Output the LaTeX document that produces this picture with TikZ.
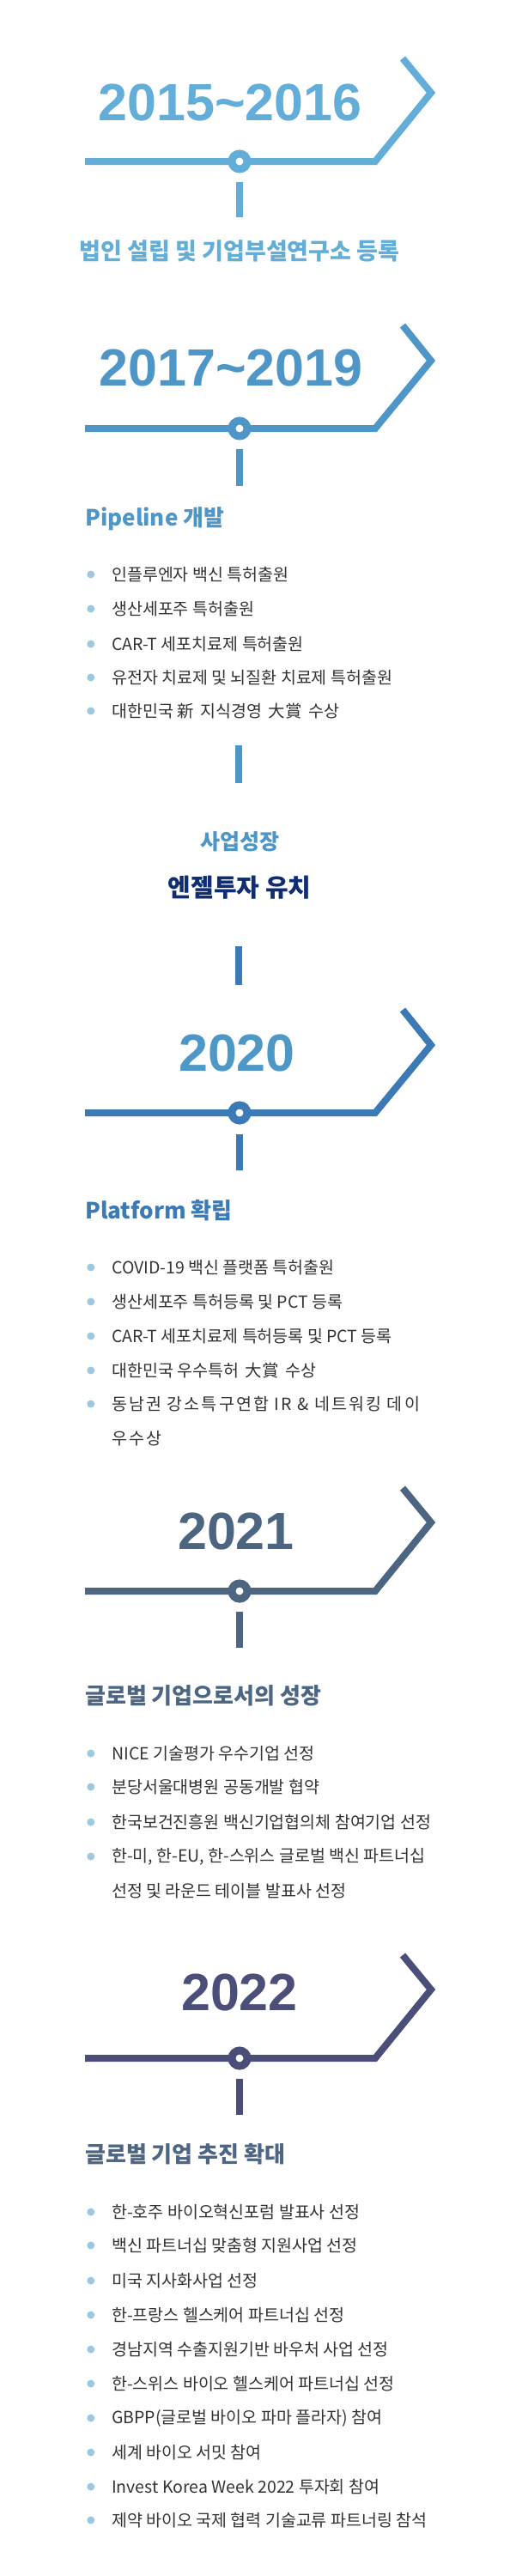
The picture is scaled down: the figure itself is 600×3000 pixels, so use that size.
\documentclass[tikz,border=0pt]{standalone}
\usepackage{fontspec}
\setmainfont{Noto Sans CJK KR}
\newfontfamily\yrfont{Liberation Sans}
\newfontfamily\spfont{Noto Sans CJK KR}[LetterSpace=11]
\usetikzlibrary{positioning}
\definecolor{TlSky}{HTML}{62AED8}
\definecolor{TlBlue}{HTML}{4E96C7}
\definecolor{TlYear}{HTML}{4E98C8}
\definecolor{TlDeep}{HTML}{3B7AB4}
\definecolor{TlNavy}{HTML}{0F2D73}
\definecolor{TlSlate}{HTML}{4C6580}
\definecolor{TlHead}{HTML}{4C6684}
\definecolor{TlIndigo}{HTML}{4A4E78}
\definecolor{TlDot}{HTML}{9EC7E0}
\definecolor{TlInk}{HTML}{333333}

\begin{document}
\begin{tikzpicture}[x=1pt,y=-1pt]
\tikzset{tl/.style={line width=8pt,line join=miter},tk/.style={line width=8pt},ring/.style={circle,draw,fill=white,line width=9pt,minimum size=18pt,inner sep=0pt},yr/.style={font=\yrfont\bfseries\fontsize{61}{61}\selectfont,inner sep=0pt},hd/.style={anchor=west,inner sep=0pt,font=\bfseries\fontsize{26}{30}\selectfont},dt/.style={circle,fill=TlDot,inner sep=0pt,minimum size=9pt},txt/.style={anchor=west,inner sep=0pt,text=TlInk,font=\fontsize{19.5}{24}\selectfont},it/.style={txt,label={[dt,label distance=19.5pt]left:{}}}}
\useasboundingbox[fill=white] (0,0) rectangle (600,3000);
% 2015~2016
\node[yr,text=TlSky] (y1) at (268,120) {2015\textasciitilde2016};
\draw[tl,TlSky] (99,188) -- (437,188) -- (502,108) -- (469,68);
\node[ring,draw=TlSky] (r1) at (279,188) {};
\draw[tk,TlSky] (279,212) -- (279,253);
\node[inner sep=0pt,text=TlSky,font=\bfseries\fontsize{27}{30}\selectfont] (h1) at (279,292) {법인 설립 및 기업부설연구소 등록};
% 2017~2019
\node[yr,text=TlBlue] (y2) at (269,428) {2017\textasciitilde2019};
\draw[tl,TlBlue] (99,499) -- (437,499) -- (502,420) -- (469,379);
\node[ring,draw=TlBlue] (r2) at (279,499) {};
\draw[tk,TlBlue] (279,523) -- (279,566);
\node[hd,text=TlBlue] (h2) at (99,604) {Pipeline 개발};
\node[it] (a1) at (130,669) {인플루엔자 백신 특허출원};
\node[it] (a2) at (130,709) {생산세포주 특허출원};
\node[it] (a3) at (130,750) {CAR-T 세포치료제 특허출원};
\node[it] (a4) at (130,789) {유전자 치료제 및 뇌질환 치료제 특허출원};
\node[it] (a5) at (130,828) {대한민국 新\, 지식경영\, 大賞\, 수상};
\draw[tk,TlBlue] (278,868) -- (278,912);
\node[inner sep=0pt,text=TlBlue,font=\bfseries\fontsize{25}{28}\selectfont] (g1) at (279,980) {사업성장};
\node[inner sep=0pt,text=TlNavy,font=\bfseries\fontsize{29}{32}\selectfont] (g2) at (279,1034) {엔젤투자 유치};
\draw[tk,TlDeep] (278,1102) -- (278,1147);
% 2020
\node[yr,text=TlYear] (y3) at (276,1226) {2020};
\draw[tl,TlDeep] (99,1296) -- (437,1296) -- (502,1217) -- (469,1176);
\node[ring,draw=TlDeep] (r3) at (279,1296) {};
\draw[tk,TlDeep] (279,1321) -- (279,1363);
\node[hd,text=TlDeep] (h3) at (99,1410) {Platform 확립};
\node[it] (b1) at (130,1476) {COVID-19 백신 플랫폼 특허출원};
\node[it] (b2) at (130,1516) {생산세포주 특허등록 및 PCT 등록};
\node[it] (b3) at (130,1556) {CAR-T 세포치료제 특허등록 및 PCT 등록};
\node[it] (b4) at (130,1596) {대한민국 우수특허\, 大賞\, 수상};
\node[it,font=\spfont\fontsize{19.5}{24}\selectfont] (b5) at (130,1635) {동남권 강소특구연합 IR \& 네트워킹 데이};
\node[txt,font=\spfont\fontsize{19.5}{24}\selectfont] (b6) at (130,1675) {우수상};
% 2021
\node[yr,text=TlSlate] (y4) at (275,1783) {2021};
\draw[tl,TlSlate] (99,1853) -- (437,1853) -- (502,1773) -- (469,1733);
\node[ring,draw=TlSlate] (r4) at (279,1853) {};
\draw[tk,TlSlate] (279,1877) -- (279,1919);
\node[hd,text=TlHead] (h4) at (99,1975) {글로벌 기업으로서의 성장};
\node[it] (c1) at (130,2042) {NICE 기술평가 우수기업 선정};
\node[it] (c2) at (130,2081) {분당서울대병원 공동개발 협약};
\node[it] (c3) at (130,2122) {한국보건진흥원 백신기업협의체 참여기업 선정};
\node[it] (c4) at (130,2162) {한-미, 한-EU, 한-스위스 글로벌 백신 파트너십};
\node[txt] (c5) at (130,2202) {선정 및 라운드 테이블 발표사 선정};
% 2022
\node[yr,text=TlIndigo] (y5) at (279,2320) {2022};
\draw[tl,TlIndigo] (99,2397) -- (437,2397) -- (502,2317) -- (469,2277);
\node[ring,draw=TlIndigo] (r5) at (279,2397) {};
\draw[tk,TlIndigo] (279,2421) -- (279,2463);
\node[hd,text=TlHead] (h5) at (99,2509) {글로벌 기업 추진 확대};
\node[it] (d1) at (130,2576) {한-호주 바이오혁신포럼 발표사 선정};
\node[it] (d2) at (130,2615) {백신 파트너십 맞춤형 지원사업 선정};
\node[it] (d3) at (130,2656) {미국 지사화사업 선정};
\node[it] (d4) at (130,2696) {한-프랑스 헬스케어 파트너십 선정};
\node[it] (d5) at (130,2736) {경남지역 수출지원기반 바우처 사업 선정};
\node[it] (d6) at (130,2776) {한-스위스 바이오 헬스케어 파트너십 선정};
\node[it] (d7) at (130,2816) {GBPP(글로벌 바이오 파마 플라자) 참여};
\node[it] (d8) at (130,2856) {세계 바이오 서밋 참여};
\node[it] (d9) at (130,2896) {Invest Korea Week 2022 투자회 참여};
\node[it] (d10) at (130,2935) {제약 바이오 국제 협력 기술교류 파트너링 참석};
\end{tikzpicture}
\end{document}
